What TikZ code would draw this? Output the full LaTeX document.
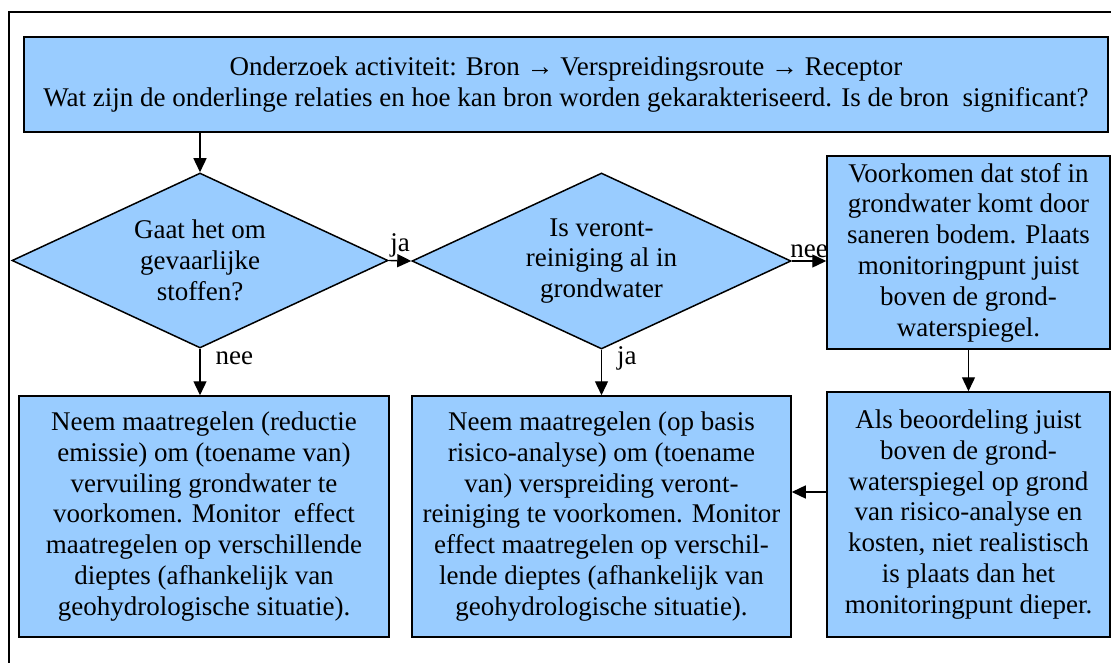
\documentclass[tikz,border=0pt]{standalone}
\usepackage{fontspec}
\setmainfont{Liberation Serif}
\usetikzlibrary{shapes.geometric,arrows.meta}
\definecolor{boxblue}{HTML}{99CCFF}
\begin{document}
\begin{tikzpicture}[x=1pt,y=-1pt,
  every node/.style={font=\fontsize{27}{30.8}\selectfont},
  box/.style={draw, line width=1.5pt, fill=boxblue, align=center, inner sep=0pt, rectangle},
  dia/.style={draw, line width=1.5pt, fill=boxblue, align=center, diamond, inner sep=0pt, aspect=2.15},
  arr/.style={line width=1.4pt, -{Triangle[length=14pt,width=13pt]}},
  lbl/.style={inner sep=1pt}]
\useasboundingbox (0,0) rectangle (1111,663);
\draw[line width=1.3pt] (9,700) -- (9,12) -- (1140,12);

\node[box, minimum width=1084pt, minimum height=95pt] (top) at (566,84.5)
  {Onderzoek activiteit: Bron → Verspreidingsroute → Receptor\\
   Wat zijn de onderlinge relaties en hoe kan bron worden gekarakteriseerd. Is de bron\ \ significant?};

\node[dia, minimum width=376pt, minimum height=175pt] (d1) at (200,260.5)
  {Gaat het om\\gevaarlijke\\stoffen?};
\node[dia, minimum width=379pt, minimum height=176pt] (d2) at (601.5,261)
  {Is veront-\\reiniging al in\\grondwater};

\node[box, minimum width=283pt, minimum height=193pt] (b3) at (968.5,252.5)
  {Voorkomen dat stof in\\grondwater komt door\\saneren bodem. Plaats\\monitoringpunt juist\\boven de grond-\\waterspiegel.};

\node[box, minimum width=370pt, minimum height=241pt] (b4) at (204,516.5)
  {Neem maatregelen (reductie\\emissie) om (toename van)\\vervuiling grondwater te\\voorkomen. Monitor\ \ effect\\maatregelen op verschillende\\dieptes (afhankelijk van\\geohydrologische situatie).};

\node[box, minimum width=379pt, minimum height=241pt] (b5) at (601.5,516.5)
  {Neem maatregelen (op basis\\risico-analyse) om (toename\\van) verspreiding veront-\\reiniging te voorkomen. Monitor\\effect maatregelen op verschil-\\lende dieptes (afhankelijk van\\geohydrologische situatie).};

\node[box, minimum width=283pt, minimum height=245pt] (b6) at (968.5,514.5)
  {Als beoordeling juist\\boven de grond-\\waterspiegel op grond\\van risico-analyse en\\kosten, niet realistisch\\is plaats dan het\\monitoringpunt dieper.};

\draw[arr] (top.south -| d1.north) -- (d1.north);
\draw[arr] (d1.east) -- (d2.west) node[midway, above=2pt, lbl] {ja};
\draw[arr] (d2.east) -- (d2.east -| b3.west) node[midway, above=2pt, lbl] {nee};
\draw[arr] (d1.south) -- (d1.south |- b4.north) node[pos=0.2, right=14pt, lbl] {nee};
\draw[arr] (d2.south) -- (d2.south |- b5.north) node[pos=0.2, right=14pt, lbl] {ja};
\draw[arr] (b3.south) -- (b6.north);
\draw[arr] ([yshift=22.5pt]b6.west) -- ([yshift=22.5pt]b6.west -| b5.east);
\end{tikzpicture}
\end{document}
